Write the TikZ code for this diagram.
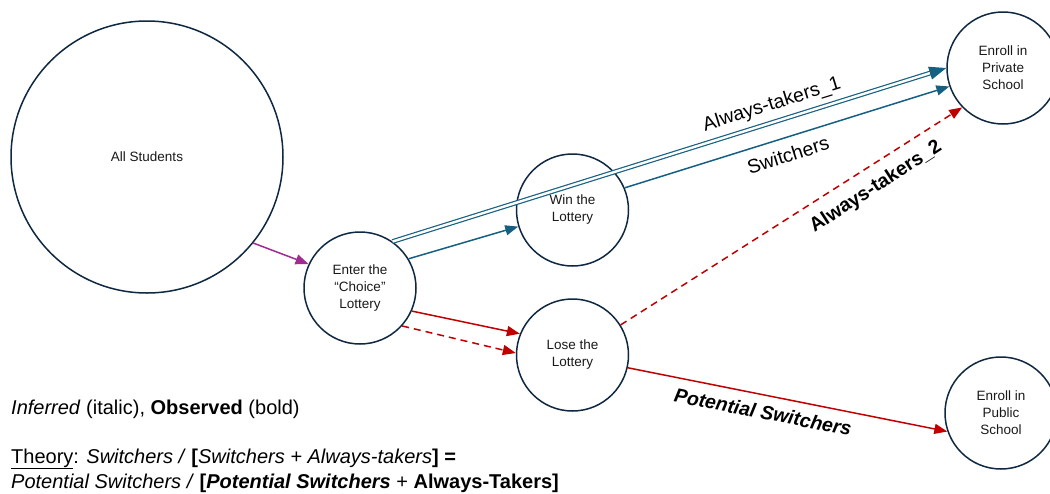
\documentclass[tikz,border=0pt]{standalone}
\usepackage{fontspec}
\setmainfont{Liberation Sans}
\usetikzlibrary{arrows.meta}
\definecolor{navy}{HTML}{0E2841}
\definecolor{bl}{HTML}{156082}
\definecolor{rd}{HTML}{C00000}
\definecolor{pu}{HTML}{A02B93}
\begin{document}
\begin{tikzpicture}[x=1pt,y=-1pt,
  st/.style={circle, draw=navy, line width=1.5pt, minimum size=112pt, inner sep=0pt, align=center, font=\fontsize{13.5}{17}\selectfont, text=black!90},
  lab/.style={inner sep=0pt, font=\fontsize{19.5}{22}\selectfont},
  conn/.style={line width=1.5pt, -{Triangle[length=13pt,width=10pt]}},
  dsh/.style={dash pattern=on 7pt off 5pt},
  txt/.style={anchor=base west, inner sep=0pt, font=\fontsize{20}{25}\selectfont}
]
\useasboundingbox (0,0) rectangle (1050,493);
\node[st, minimum size=272pt] (all) at (147,157) {All Students};
\node[st] (enter) at (360,288) {Enter the\\“Choice”\\Lottery};
\node[st] (win) at (572.5,210) {Win the\\Lottery};
\node[st] (lose) at (572.5,355) {Lose the\\Lottery};
\node[st] (priv) at (1003,68) {Enroll in\\Private\\School};
\node[st] (pub) at (1001,413) {Enroll in\\Public\\School};

\draw[conn, pu] (all.-39) -- (enter.155);
\draw[conn, bl] (enter.31) -- (win.197.6);
\draw[bl, line width=1.2pt, double=white, double distance=2.4pt, -{Triangle[length=17pt,width=13pt]}] (enter.55) -- (priv.180);
\draw[conn, bl] (win.23) -- (priv.199);
\draw[conn, rd] (enter.-24) -- (lose.158);
\draw[conn, rd, dsh] (enter.-42) -- (lose.178);
\draw[conn, rd, dsh] (lose.32) -- (priv.224);
\draw[conn, rd] (lose.-13) -- (pub.199.5);

\node[lab, rotate=17.3] (l1) at (772,105) {Always-takers\_1};
\node[lab, rotate=17.5] (l2) at (788,155) {Switchers};
\node[lab, font=\fontsize{19.5}{22}\selectfont\bfseries, rotate=33] (l3) at (876,187) {Always-takers\_2};
\node[lab, font=\fontsize{19.5}{22}\selectfont\bfseries\itshape, rotate=-11] (l4) at (763,412) {Potential Switchers};

\node[txt] (legend) at (11,414) {\textit{Inferred} (italic), \textbf{Observed} (bold)};
\node[txt] (theory) at (11,463) {\underline{Theory}: \textit{Switchers / }\textbf{[}\textit{Switchers + Always-takers}\textbf{] =}};
\node[txt] (theory2) at (11,488) {\textit{Potential Switchers / }\textbf{[\textit{Potential Switchers}} + \textbf{Always-Takers]}};
\end{tikzpicture}
\end{document}
